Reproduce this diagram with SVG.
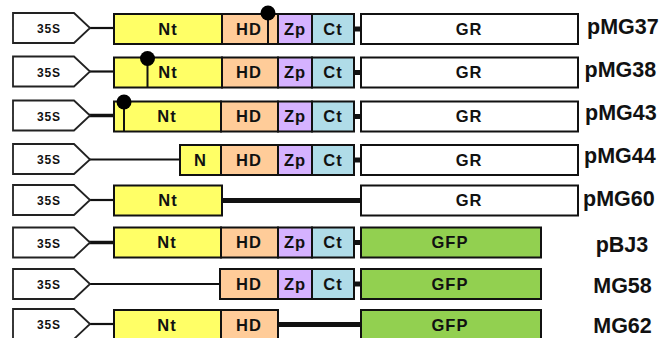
<svg xmlns="http://www.w3.org/2000/svg" width="665" height="338" viewBox="0 0 665 338">
<style>
.bx{stroke:#111;stroke-width:2}
.p35{fill:#fff;stroke:#222;stroke-width:1.8}
.nt{fill:#FFFF66}.hd{fill:#FFCC99}.zp{fill:#D5B2FF}.ct{fill:#B0DCE8}.gr{fill:#fff}.gfp{fill:#92D050}
text{font-family:"Liberation Sans",Arial,sans-serif;font-weight:bold;fill:#111}
.t{font-size:16.5px;letter-spacing:1px;text-anchor:middle}
.s{font-size:12px;letter-spacing:0.8px;text-anchor:middle}
.lb{font-size:21.5px}
.thin{stroke:#111;stroke-width:2.2;fill:none}
.thk{stroke:#111;stroke-width:5;fill:none}
.stem{stroke:#111;stroke-width:2}
</style>
<g id="connectors">
  <line class="thin" x1="89" y1="28" x2="114" y2="28"/>
  <line class="thk" x1="354" y1="29" x2="361" y2="29"/>
  <line class="thin" x1="89" y1="71.5" x2="114" y2="71.5"/>
  <line class="thk" x1="354" y1="72.5" x2="361" y2="72.5"/>
  <line class="thin" x1="89" y1="115.5" x2="114" y2="115.5" style="stroke-width:3.5"/>
  <line class="thk" x1="354" y1="116.5" x2="361" y2="116.5"/>
  <line class="thin" x1="89" y1="159.5" x2="180" y2="159.5" style="stroke-width:1.8"/>
  <line class="thk" x1="354" y1="160" x2="361" y2="160"/>
  <line class="thin" x1="89" y1="200" x2="114" y2="200"/>
  <line class="thk" x1="222" y1="200.5" x2="361" y2="200.5"/>
  <line class="thin" x1="89" y1="242.5" x2="114" y2="242.5" style="stroke-width:3.5"/>
  <line class="thk" x1="354" y1="242.5" x2="361" y2="242.5"/>
  <line class="thin" x1="89" y1="284" x2="220" y2="284" style="stroke-width:1.8"/>
  <line class="thk" x1="354" y1="284" x2="361" y2="284"/>
  <line class="thin" x1="89" y1="324" x2="114" y2="324"/>
  <line class="thk" x1="278" y1="324.5" x2="361" y2="324.5"/>
</g>
<g id="row-pMG37">
  <g id="pMG37-35S"><polygon class="p35" points="13,13 74,13 90,28 74,43 13,43"/><text class="s" x="49" y="33">35S</text></g>
  <g id="pMG37-Nt"><rect class="bx nt" x="114" y="14" width="108" height="30"/><text class="t" x="168" y="34.8">Nt</text></g>
  <g id="pMG37-HD"><rect class="bx hd" x="222" y="14" width="56" height="30"/><text class="t" x="249" y="34.8">HD</text></g>
  <g id="pMG37-Zp"><rect class="bx zp" x="278" y="14" width="34" height="30"/><text class="t" x="295" y="34.8">Zp</text></g>
  <g id="pMG37-Ct"><rect class="bx ct" x="312" y="14" width="42" height="30"/><text class="t" x="333" y="34.8">Ct</text></g>
  <g id="pMG37-GR"><rect class="bx gr" x="361" y="14" width="217" height="30"/><text class="t" x="469" y="34.8">GR</text></g>
  <g id="pMG37-site"><line class="stem" x1="268" y1="13" x2="268" y2="44"/><circle cx="268" cy="13" r="7.5" fill="#000"/></g>
  <text class="lb" x="587" y="33.5">pMG37</text>
</g>
<g id="row-pMG38">
  <g id="pMG38-35S"><polygon class="p35" points="13,56.5 74,56.5 90,71.5 74,86.5 13,86.5"/><text class="s" x="49" y="76.5">35S</text></g>
  <g id="pMG38-Nt"><rect class="bx nt" x="114" y="57.5" width="108" height="30"/><text class="t" x="168" y="78.3">Nt</text></g>
  <g id="pMG38-HD"><rect class="bx hd" x="222" y="57.5" width="56" height="30"/><text class="t" x="249" y="78.3">HD</text></g>
  <g id="pMG38-Zp"><rect class="bx zp" x="278" y="57.5" width="34" height="30"/><text class="t" x="295" y="78.3">Zp</text></g>
  <g id="pMG38-Ct"><rect class="bx ct" x="312" y="57.5" width="42" height="30"/><text class="t" x="333" y="78.3">Ct</text></g>
  <g id="pMG38-GR"><rect class="bx gr" x="361" y="57.5" width="217" height="30"/><text class="t" x="469" y="78.3">GR</text></g>
  <g id="pMG38-site"><line class="stem" x1="147.5" y1="58.5" x2="147.5" y2="87.5"/><circle cx="147.5" cy="58.5" r="7.5" fill="#000"/></g>
  <text class="lb" x="584.5" y="76.5">pMG38</text>
</g>
<g id="row-pMG43">
  <g id="pMG43-35S"><polygon class="p35" points="13,100.5 74,100.5 90,115.5 74,130.5 13,130.5"/><text class="s" x="49" y="120.5">35S</text></g>
  <g id="pMG43-Nt"><rect class="bx nt" x="114" y="101.5" width="107" height="30"/><text class="t" x="167" y="122.3">Nt</text></g>
  <g id="pMG43-HD"><rect class="bx hd" x="221" y="101.5" width="57" height="30"/><text class="t" x="249" y="122.3">HD</text></g>
  <g id="pMG43-Zp"><rect class="bx zp" x="278" y="101.5" width="34" height="30"/><text class="t" x="295" y="122.3">Zp</text></g>
  <g id="pMG43-Ct"><rect class="bx ct" x="312" y="101.5" width="42" height="30"/><text class="t" x="333" y="122.3">Ct</text></g>
  <g id="pMG43-GR"><rect class="bx gr" x="361" y="101.5" width="217" height="30"/><text class="t" x="469" y="122.3">GR</text></g>
  <g id="pMG43-site"><line class="stem" x1="124" y1="102" x2="124" y2="131.5"/><circle cx="124" cy="102" r="7.5" fill="#000"/></g>
  <text class="lb" x="585" y="119.5">pMG43</text>
</g>
<g id="row-pMG44">
  <g id="pMG44-35S"><polygon class="p35" points="13,144 74,144 90,159.5 74,174 13,174"/><text class="s" x="49" y="164">35S</text></g>
  <g id="pMG44-N"><rect class="bx nt" x="180" y="145" width="41" height="30"/><text class="t" x="200.5" y="165.8">N</text></g>
  <g id="pMG44-HD"><rect class="bx hd" x="221" y="145" width="57" height="30"/><text class="t" x="249" y="165.8">HD</text></g>
  <g id="pMG44-Zp"><rect class="bx zp" x="278" y="145" width="34" height="30"/><text class="t" x="295" y="165.8">Zp</text></g>
  <g id="pMG44-Ct"><rect class="bx ct" x="312" y="145" width="42" height="30"/><text class="t" x="333" y="165.8">Ct</text></g>
  <g id="pMG44-GR"><rect class="bx gr" x="361" y="145" width="217" height="30"/><text class="t" x="469" y="165.8">GR</text></g>
  <text class="lb" x="584" y="162.5">pMG44</text>
</g>
<g id="row-pMG60">
  <g id="pMG60-35S"><polygon class="p35" points="13,185 74,185 90,200 74,215 13,215"/><text class="s" x="49" y="205">35S</text></g>
  <g id="pMG60-Nt"><rect class="bx nt" x="114" y="185.5" width="108" height="30"/><text class="t" x="168" y="206.3">Nt</text></g>
  <g id="pMG60-GR"><rect class="bx gr" x="361" y="185.5" width="217" height="30"/><text class="t" x="469" y="206.3">GR</text></g>
  <text class="lb" x="583" y="205.5">pMG60</text>
</g>
<g id="row-pBJ3">
  <g id="pBJ3-35S"><polygon class="p35" points="13,227.5 74,227.5 90,242.5 74,257.5 13,257.5"/><text class="s" x="49" y="247.5">35S</text></g>
  <g id="pBJ3-Nt"><rect class="bx nt" x="114" y="227.5" width="107" height="30"/><text class="t" x="167" y="248.3">Nt</text></g>
  <g id="pBJ3-HD"><rect class="bx hd" x="221" y="227.5" width="57" height="30"/><text class="t" x="249" y="248.3">HD</text></g>
  <g id="pBJ3-Zp"><rect class="bx zp" x="278" y="227.5" width="34" height="30"/><text class="t" x="295" y="248.3">Zp</text></g>
  <g id="pBJ3-Ct"><rect class="bx ct" x="312" y="227.5" width="42" height="30"/><text class="t" x="333" y="248.3">Ct</text></g>
  <g id="pBJ3-GFP"><rect class="bx gfp" x="361" y="227.5" width="180" height="30"/><text class="t" x="450" y="248.3">GFP</text></g>
  <text class="lb" x="622" y="251.5" text-anchor="middle">pBJ3</text>
</g>
<g id="row-MG58">
  <g id="MG58-35S"><polygon class="p35" points="13,269 74,269 90,284 74,299 13,299"/><text class="s" x="49" y="289">35S</text></g>
  <g id="MG58-HD"><rect class="bx hd" x="220" y="269" width="58" height="30"/><text class="t" x="249" y="289.8">HD</text></g>
  <g id="MG58-Zp"><rect class="bx zp" x="278" y="269" width="34" height="30"/><text class="t" x="295" y="289.8">Zp</text></g>
  <g id="MG58-Ct"><rect class="bx ct" x="312" y="269" width="42" height="30"/><text class="t" x="333" y="289.8">Ct</text></g>
  <g id="MG58-GFP"><rect class="bx gfp" x="361" y="269" width="180" height="30"/><text class="t" x="450" y="289.8">GFP</text></g>
  <text class="lb" x="622.5" y="292.5" text-anchor="middle">MG58</text>
</g>
<g id="row-MG62">
  <g id="MG62-35S"><polygon class="p35" points="13,309 74,309 90,324 74,339 13,339"/><text class="s" x="49" y="329">35S</text></g>
  <g id="MG62-Nt"><rect class="bx nt" x="114" y="310" width="107" height="30"/><text class="t" x="167" y="330.8">Nt</text></g>
  <g id="MG62-HD"><rect class="bx hd" x="221" y="310" width="57" height="30"/><text class="t" x="249" y="330.8">HD</text></g>
  <g id="MG62-GFP"><rect class="bx gfp" x="361" y="310" width="180" height="30"/><text class="t" x="450" y="330.8">GFP</text></g>
  <text class="lb" x="622.5" y="333" text-anchor="middle">MG62</text>
</g>
</svg>
